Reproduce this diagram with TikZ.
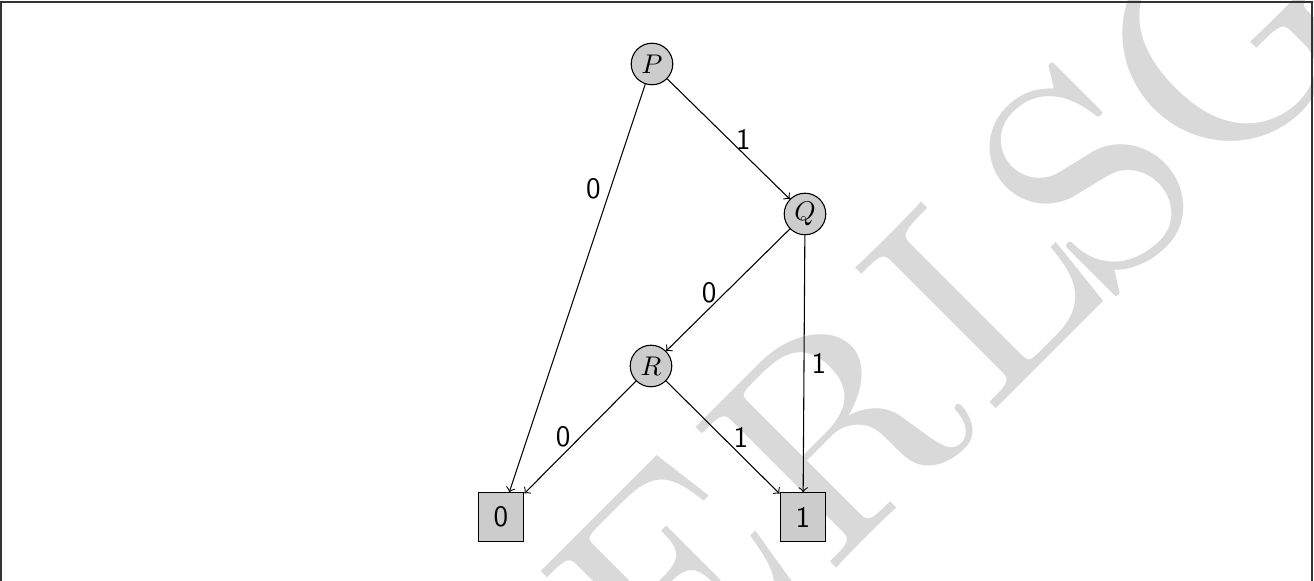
\documentclass[tikz,border=0pt]{standalone}
\usetikzlibrary{calc}
\begin{document}
\begin{tikzpicture}[x=0.3704pt,y=-0.3704pt,
  bddnode/.style={circle,draw,fill=gray!40,minimum size=15.4pt,inner sep=1pt,font=\normalsize},
  termnode/.style={rectangle,draw,fill=gray!40,minimum width=17pt,minimum height=18pt,inner sep=1pt,font=\sffamily\fontsize{11}{13}\selectfont},
  edge/.style={->,line width=0.4pt},
  lbl/.style={font=\sffamily\fontsize{11}{13}\selectfont,inner sep=0pt},
  wmark/.style={rotate=45,scale=10.8,inner sep=0pt,text=gray!30,font=\fontsize{10}{10}\selectfont}]
\useasboundingbox (0,0) rectangle (1314,581);
\clip (0,0) rectangle (1314,581);
% watermark
\node[wmark,anchor=base west] (wmL) at (985,420) {L};
\node[wmark,anchor=base east] (wmR) at (wmL.base west) {R};
\node[wmark,anchor=base east] (wmE) at ($(wmR.base west)+(-6,-6)$) {E};
\node[wmark,anchor=base west] (wmS) at ($(wmL.base east)+(-26,26)$) {S};
\node[wmark,anchor=base west] (wmG) at ($(wmS.base east)+(-10,10)$) {G};
% frame
\draw[line width=0.6pt,black!80] (1,2) rectangle (1312,600);
% nodes
\node[bddnode] (P) at (652,64) {$P$};
\node[bddnode] (Q) at (805,214) {$Q$};
\node[bddnode] (R) at (651,366) {$R$};
\node[termnode] (T0) at (501,517) {0};
\node[termnode] (T1) at (803,517) {1};
% edges
\draw[edge] (P) -- node[lbl,pos=0.256,xshift=-6.3pt] {0} (T0);
\draw[edge] (P) -- node[lbl,pos=0.5,xshift=5.5pt] {1} (Q);
\draw[edge] (Q) -- node[lbl,pos=0.5,xshift=-7pt,yshift=-1pt] {0} (R);
\draw[edge] (Q) -- node[lbl,pos=0.5,xshift=5.5pt] {1} (T1);
\draw[edge] (R) -- node[lbl,pos=0.5,xshift=-6.3pt] {0} (T0);
\draw[edge] (R) -- node[lbl,pos=0.5,xshift=6.7pt] {1} (T1);
\end{tikzpicture}
\end{document}
